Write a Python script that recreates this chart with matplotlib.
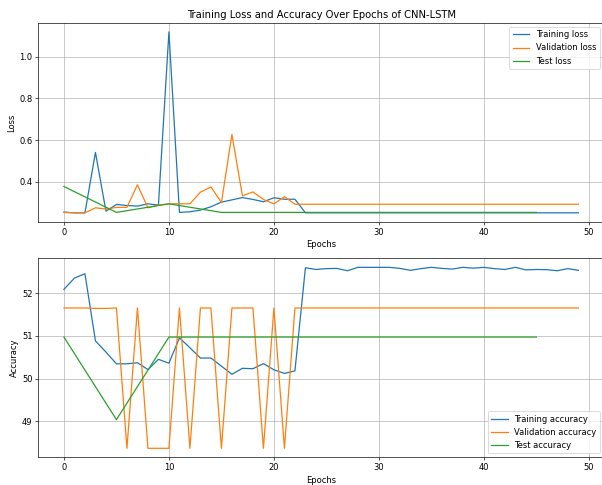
import numpy as np
import matplotlib
matplotlib.use("Agg")
import matplotlib.pyplot as plt

epochs = list(range(50))
test_epochs = list(range(0, 50, 5))

train_loss = [0.255, 0.252, 0.252, 0.541, 0.26, 0.292, 0.287, 0.284, 0.295, 0.289,
              1.118, 0.254, 0.257, 0.265, 0.281, 0.303, 0.314, 0.325, 0.316, 0.305,
              0.324, 0.317, 0.317] + [0.252] * 27
val_loss = [0.254, 0.252, 0.252, 0.276, 0.27, 0.278, 0.278, 0.386, 0.276, 0.289,
            0.295, 0.295, 0.295, 0.351, 0.376, 0.301, 0.627, 0.333, 0.352, 0.316,
            0.295, 0.329, 0.293] + [0.293] * 27
test_loss = [0.378, 0.254, 0.295, 0.254, 0.254, 0.254, 0.254, 0.254, 0.254, 0.254]

train_acc = [52.085, 52.35, 52.45, 50.88, 50.62, 50.345, 50.345, 50.37, 50.21, 50.45,
             50.36, 50.95, 50.72, 50.48, 50.48, 50.29, 50.10, 50.24, 50.23, 50.35,
             50.205, 50.12, 50.18, 52.59, 52.55, 52.57, 52.575, 52.52, 52.6, 52.6,
             52.6, 52.6, 52.575, 52.53, 52.57, 52.6, 52.575, 52.56, 52.6, 52.58,
             52.6, 52.57, 52.55, 52.6, 52.54, 52.55, 52.545, 52.52, 52.57, 52.53]
hi, lo = 51.65, 48.37
val_acc = [hi, hi, hi, 51.64, 51.64, hi, lo, hi, lo, lo,
           lo, hi, lo, hi, hi, lo, hi, hi, hi, lo,
           hi, lo, hi] + [hi] * 27
test_acc = [50.97, 49.04, 50.97, 50.97, 50.97, 50.97, 50.97, 50.97, 50.97, 50.97]

# drawn at ~10x8 inches, saved at 60 dpi
fig, (ax1, ax2) = plt.subplots(2, 1, figsize=(602 / 60, 485 / 60), dpi=60)

ax1.plot(epochs, train_loss, label="Training loss")
ax1.plot(epochs, val_loss, label="Validation loss")
ax1.plot(test_epochs, test_loss, label="Test loss")
ax1.set_title("Training Loss and Accuracy Over Epochs of CNN-LSTM")
ax1.set_xlabel("Epochs")
ax1.set_ylabel("Loss")
ax1.legend(loc="upper right")
ax1.grid(True)

ax2.plot(epochs, train_acc, label="Training accuracy")
ax2.plot(epochs, val_acc, label="Validation accuracy")
ax2.plot(test_epochs, test_acc, label="Test accuracy")
ax2.set_xlabel("Epochs")
ax2.set_ylabel("Accuracy")
ax2.legend(loc="lower right")
ax2.grid(True)

# the original was cropped a bit on the right
plt.subplots_adjust(left=0.0635, right=1.0035, top=0.953, bottom=0.057, hspace=0.183)
plt.savefig("out.png", dpi=60)
